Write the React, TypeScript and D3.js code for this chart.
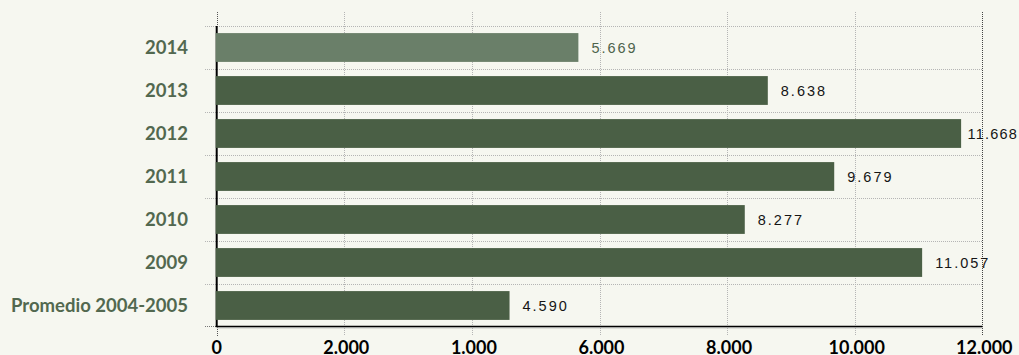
import React from "react";
import * as d3 from "d3";

const categories = ["2014", "2013", "2012", "2011", "2010", "2009", "Promedio 2004-2005"];
const values = [5669, 8638, 11668, 9679, 8277, 11057, 4590];
const highlighted = ["2014"];
const tickValues = [0, 2000, 4000, 6000, 8000, 10000, 12000];
const tickLabels = ["0", "2.000", "1.000", "6.000", "8.000", "10.000", "12.000"];

const W = 1019;
const H = 355;

const fmt = d3.formatLocale({ decimal: ",", thousands: ".", grouping: [3], currency: ["", ""] }).format(",d");

export default function App() {
  const x = d3.scaleLinear().domain([0, 12000]).range([216.7, 982.3]);
  const y = d3.scaleBand<string>().domain(categories).range([26, 327]).paddingInner(0.33).paddingOuter(0.165);
  const step = y.step();
  const bw = y.bandwidth();
  const boundaries = categories.map((c) => (y(c) as number) - (step - bw) / 2);
  const top = 12;
  const plotTop = 26;
  const plotBottom = 327;
  const x0 = x(0);
  const xMax = x(12000);

  return (
    <svg width={W} height={H} style={{ position: "absolute", left: 0, top: 0, background: "#f6f7f0" }}>
      <rect x={0} y={0} width={W} height={H} fill="#f6f7f0" />
      {/* vertical gridlines */}
      {tickValues.map((t, i) => {
        const xx = Math.round(x(t)) + 0.5;
        if (i === 0) {
          return (
            <g key={t}>
              <line x1={xx} x2={xx} y1={top} y2={plotTop} stroke="#555" strokeDasharray="1,1" />
              <line x1={xx} x2={xx} y1={plotBottom} y2={336} stroke="#555" strokeDasharray="1,1" />
            </g>
          );
        }
        const last = i === tickValues.length - 1;
        return (
          <line key={t} x1={xx} x2={xx} y1={top} y2={336} stroke={last ? "#444" : "#b5b5b5"} strokeDasharray="1,1" />
        );
      })}
      {/* horizontal gridlines */}
      {boundaries.map((b, i) => (
        <line key={i} x1={205} x2={xMax} y1={Math.round(b) + 0.5} y2={Math.round(b) + 0.5} stroke="#b5b5b5" strokeDasharray="1,1" />
      ))}
      <line x1={205} x2={x0} y1={plotBottom - 0.5} y2={plotBottom - 0.5} stroke="#777" strokeDasharray="1,1" />
      {/* axes */}
      <line x1={x0} x2={x0} y1={plotTop} y2={plotBottom} stroke="#000" strokeWidth={2} />
      <line x1={x0 - 1} x2={xMax} y1={326.5} y2={326.5} stroke="#000" strokeWidth={1.5} />
      <line x1={x0} x2={xMax} y1={327.8} y2={327.8} stroke="#999" strokeWidth={0.8} />
      {/* bars */}
      {categories.map((c, i) => (
        <rect
          key={c}
          x={x0 - 1}
          y={y(c)}
          width={x(values[i]) - x0 + 1}
          height={bw}
          fill={highlighted.includes(c) ? "#6a7f69" : "#4a5f45"}
        />
      ))}
      {/* category labels */}
      {categories.map((c) => (
        <text
          key={c}
          x={188}
          y={(y(c) as number) + bw / 2}
          dy="0.36em"
          textAnchor="end"
          fontFamily="Lato, 'Open Sans', sans-serif"
          fontWeight={700}
          fontSize={18.5}
          fill="#52684f"
        >
          {c}
        </text>
      ))}
      {/* value labels */}
      {categories.map((c, i) => {
        const label = fmt(values[i]);
        const est = label.length * 9.6;
        const start = x(values[i]) + 13;
        const overflow = start + est > W - 1;
        return (
          <text
            key={c}
            x={overflow ? W - 1 : start}
            y={(y(c) as number) + bw / 2}
            dy="0.36em"
            textAnchor={overflow ? "end" : "start"}
            fontFamily="Arial, Helvetica, sans-serif"
            fontSize={14.5}
            letterSpacing={overflow ? 1.2 : 2}
            fill={highlighted.includes(c) ? "#4e634c" : "#151515"}
          >
            {label}
          </text>
        );
      })}
      {/* tick labels */}
      {tickValues.map((t, i) => (
        <text
          key={t}
          x={x(t) + (i === 0 ? 0 : 2)}
          y={353.5}
          textAnchor="middle"
          fontFamily="Lato, 'Open Sans', sans-serif"
          fontWeight={700}
          fontSize={18}
          fill="#000"
        >
          {tickLabels[i]}
        </text>
      ))}
    </svg>
  );
}
